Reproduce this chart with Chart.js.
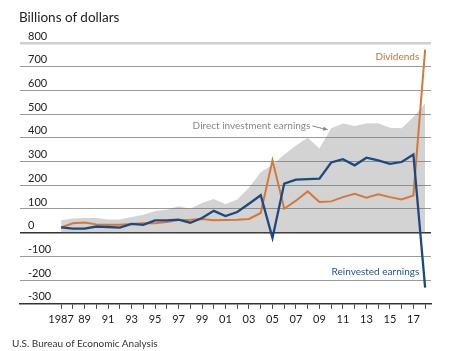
<!DOCTYPE html>
<html lang="en">
<head>
  <meta charset="UTF-8" />
  <title>Direct investment earnings</title>
  <script src="https://cdn.jsdelivr.net/npm/chart.js"></script>
  <style>
    body { margin: 0; background: #fff; font-family: Lato, sans-serif; }
    #wrap { position: relative; width: 452px; height: 351px; }
    #title { position: absolute; left: 19px; top: 9px; font-size: 13.5px; color: #222; }
    #source { position: absolute; left: 12px; top: 337px; font-size: 10px; color: #333; }
    canvas { position: absolute; left: 0; top: 0; }
  </style>
</head>
<body>
  <div id="wrap">
    <canvas id="earningsChart" width="452" height="351"></canvas>
    <div id="title">Billions of dollars</div>
    <div id="source">U.S. Bureau of Economic Analysis</div>
  </div>

  <script>
    const years = [1987, 1988, 1989, 1990, 1991, 1992, 1993, 1994, 1995, 1996, 1997,
                   1998, 1999, 2000, 2001, 2002, 2003, 2004, 2005, 2006, 2007, 2008,
                   2009, 2010, 2011, 2012, 2013, 2014, 2015, 2016, 2017, 2018];

    const earnings = [52, 60, 62, 62, 56, 56, 66, 76, 91, 97, 111,
                      101, 125, 142, 120, 140, 190, 255, 285, 330, 368, 400,
                      355, 440, 460, 450, 460, 462, 443, 440, 488, 545];

    const dividends = [22, 40, 43, 35, 33, 33, 37, 40, 40, 45, 53,
                       54, 58, 52, 53, 54, 58, 83, 305, 101, 135, 174,
                       129, 132, 150, 164, 147, 162, 150, 140, 157, 772];

    const reinvested = [22, 17, 17, 26, 24, 21, 37, 33, 52, 52, 55,
                        42, 62, 92, 70, 87, 122, 158, -22, 207, 224, 226,
                        228, 296, 310, 284, 316, 305, 290, 298, 330, -232];

    const yTicks = [-300, -200, -100, 0, 100, 200, 300, 400, 500, 600, 700, 800];

    const toPoints = vals => years.map((yr, i) => ({ x: yr, y: vals[i] }));

    Chart.defaults.font.family = 'Lato, sans-serif';

    // series names written next to the lines
    const seriesLabels = {
      id: 'seriesLabels',
      afterDatasetsDraw(chart) {
        const { ctx, scales: { x, y } } = chart;
        ctx.save();
        ctx.font = '10px Lato, sans-serif';
        ctx.textBaseline = 'middle';

        ctx.textAlign = 'right';
        ctx.fillStyle = '#c7733a';
        ctx.fillText('Dividends', x.getPixelForValue(2017.5), y.getPixelForValue(740));

        ctx.fillStyle = '#24548a';
        ctx.fillText('Reinvested earnings', x.getPixelForValue(2017.5), y.getPixelForValue(-166));

        ctx.textAlign = 'left';
        ctx.fillStyle = '#888';
        const tx = x.getPixelForValue(1998.2);
        const ty = y.getPixelForValue(450);
        ctx.fillText('Direct investment earnings', tx, ty);

        // little arrow to the grey area
        const x0 = tx + ctx.measureText('Direct investment earnings').width + 2;
        const x1 = x.getPixelForValue(2009.7);
        const y1 = y.getPixelForValue(434);
        ctx.strokeStyle = '#888';
        ctx.fillStyle = '#888';
        ctx.lineWidth = 1;
        ctx.beginPath();
        ctx.moveTo(x0, ty);
        ctx.lineTo(x1, y1);
        ctx.stroke();
        const ang = Math.atan2(y1 - ty, x1 - x0);
        ctx.beginPath();
        ctx.moveTo(x1, y1);
        ctx.lineTo(x1 - 5 * Math.cos(ang - 0.45), y1 - 5 * Math.sin(ang - 0.45));
        ctx.lineTo(x1 - 5 * Math.cos(ang + 0.45), y1 - 5 * Math.sin(ang + 0.45));
        ctx.closePath();
        ctx.fill();
        ctx.restore();
      }
    };

    new Chart(document.getElementById('earningsChart'), {
      type: 'line',
      data: {
        datasets: [
          {
            label: 'Direct investment earnings',
            data: toPoints(earnings),
            fill: 'origin',
            backgroundColor: 'rgba(110, 110, 110, 0.3)',
            borderWidth: 0,
            pointRadius: 0,
            order: 3
          },
          {
            label: 'Dividends',
            data: toPoints(dividends),
            borderColor: '#d4793a',
            borderWidth: 2,
            pointRadius: 0,
            fill: false,
            order: 2
          },
          {
            label: 'Reinvested earnings',
            data: toPoints(reinvested),
            borderColor: '#1c4a80',
            borderWidth: 2.3,
            pointRadius: 0,
            fill: false,
            order: 1
          }
        ]
      },
      options: {
        responsive: false,
        animation: false,
        layout: { padding: { left: 20, right: 21, top: 43, bottom: 21 } },
        plugins: {
          legend: { display: false },
          tooltip: { enabled: false }
        },
        scales: {
          x: {
            type: 'linear',
            min: 1983.5,
            max: 2018.5,
            afterBuildTicks: scale => { scale.ticks = years.map(v => ({ value: v })); },
            ticks: {
              autoSkip: false,
              maxRotation: 0,
              padding: 4,
              color: '#1a1a1a',
              font: { size: 11 },
              callback: v => v === 1987 ? '1987' : (v % 2 === 1 ? String(v).slice(2) : '')
            },
            grid: { drawOnChartArea: false, drawTicks: true, tickLength: 5, color: '#444' },
            border: { display: true, color: '#333', width: 1.5 }
          },
          y: {
            min: -300,
            max: 800,
            afterBuildTicks: scale => { scale.ticks = yTicks.map(v => ({ value: v })); },
            // labels sit inside the plot, so the axis takes no room
            afterFit: scale => { scale.width = 0; },
            ticks: {
              mirror: true,
              padding: 8,
              labelOffset: -7,
              color: '#222',
              font: { size: 11 }
            },
            grid: {
              drawTicks: false,
              color: c => c.tick.value === 0 ? '#333' : (c.tick.value === 800 ? '#cfcfcf' : '#9a9a9a'),
              lineWidth: c => c.tick.value === 0 ? 1.5 : (c.tick.value === 800 ? 2.5 : 1)
            },
            border: { display: false }
          }
        }
      },
      plugins: [seriesLabels]
    });
  </script>
</body>
</html>
